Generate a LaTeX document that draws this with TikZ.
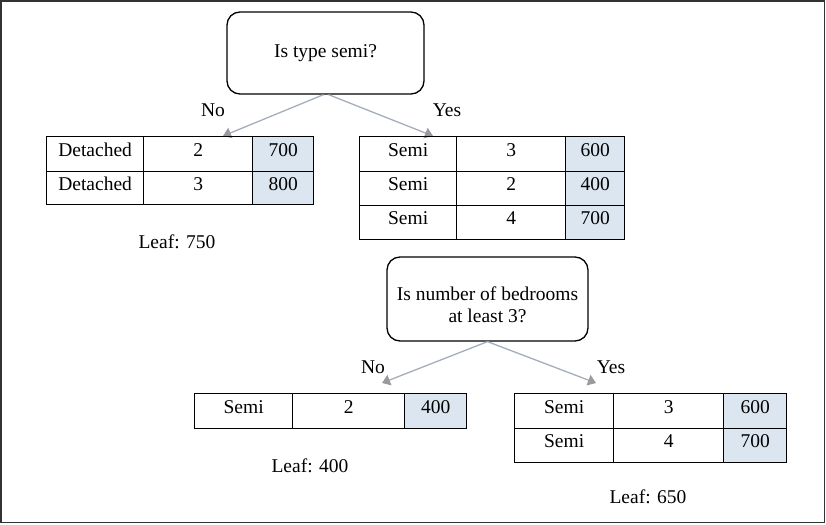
\documentclass[tikz,border=0pt]{standalone}
\usepackage{fontspec}
\setmainfont{Liberation Serif}
\usetikzlibrary{arrows.meta}
\definecolor{shade}{HTML}{DCE6F1}
\definecolor{arrowc}{HTML}{A3ADBB}
\definecolor{tipc}{HTML}{9A9A9A}
\definecolor{frame}{HTML}{333333}
\begin{document}
\begin{tikzpicture}[x=1pt,y=-1pt,
  every node/.style={font=\fontsize{19.5}{22}\selectfont},
  cell/.style={draw=black,line width=1.3pt,anchor=north west,inner sep=0pt,
    text height=13pt,text depth=9pt},
  val/.style={cell,fill=shade},
  question/.style={draw=black,line width=1.3pt,rounded corners=13pt,inner sep=0pt},
  lbl/.style={inner sep=0pt},
  branch/.style={draw=arrowc,line width=1.3pt,
    -{Triangle[length=8pt,width=11pt,fill=tipc,color=tipc]}}]
\useasboundingbox (0,0) rectangle (826,524);
\draw[frame,line width=1.6pt] (0.8,0.8) rectangle (824.6,522.6);

% first question
\node[question,minimum width=197pt,minimum height=82pt] (q1) at (325.5,53) {Is type semi?};
\coordinate (t1in) at (223,136);
\coordinate (t2in) at (433,136);
\draw[branch] ([xshift=-2pt]q1.south) -- (t1in);
\draw[branch] ([xshift=3pt]q1.south) -- (t2in);
\node[lbl] (no1) at (213,110) {No};
\node[lbl] (yes1) at (447,110) {Yes};

% table 1
\node[cell,minimum width=97pt,minimum height=35pt] (t1a1) at (46,136) {Detached};
\node[cell,minimum width=109pt,minimum height=35pt] (t1b1) at (143,136) {2};
\node[val,minimum width=61pt,minimum height=35pt] (t1c1) at (252,136) {700};
\node[cell,minimum width=97pt,minimum height=33pt] (t1a2) at (46,171) {Detached};
\node[cell,minimum width=109pt,minimum height=33pt] (t1b2) at (143,171) {3};
\node[val,minimum width=61pt,minimum height=33pt] (t1c2) at (252,171) {800};
\node[lbl] (leaf1) at (177,242) {Leaf: 750};

% table 2
\node[cell,minimum width=97pt,minimum height=35pt] (t2a1) at (359,136) {Semi};
\node[cell,minimum width=109pt,minimum height=35pt] (t2b1) at (456,136) {3};
\node[val,minimum width=59pt,minimum height=35pt] (t2c1) at (565,136) {600};
\node[cell,minimum width=97pt,minimum height=34pt] (t2a2) at (359,171) {Semi};
\node[cell,minimum width=109pt,minimum height=34pt] (t2b2) at (456,171) {2};
\node[val,minimum width=59pt,minimum height=34pt] (t2c2) at (565,171) {400};
\node[cell,minimum width=97pt,minimum height=34pt] (t2a3) at (359,205) {Semi};
\node[cell,minimum width=109pt,minimum height=34pt] (t2b3) at (456,205) {4};
\node[val,minimum width=59pt,minimum height=34pt] (t2c3) at (565,205) {700};

% second question
\node[question,minimum width=201pt,minimum height=84pt] (q2) at (487.5,299) {};
\node[lbl,align=center] (q2t) at (487.5,305) {Is number of bedrooms\\at least 3?};
\coordinate (t4in) at (382,383);
\coordinate (t5in) at (596,383);
\draw[branch] (q2.south) -- (t4in);
\draw[branch] (q2.south) -- (t5in);
\node[lbl] (no2) at (373,367) {No};
\node[lbl] (yes2) at (611,367) {Yes};

% table 4
\node[cell,minimum width=98pt,minimum height=35pt] (t4a1) at (194,393) {Semi};
\node[cell,minimum width=112pt,minimum height=35pt] (t4b1) at (292,393) {2};
\node[val,minimum width=62pt,minimum height=35pt] (t4c1) at (404,393) {400};
\node[lbl] (leaf2) at (310,466) {Leaf: 400};

% table 5
\node[cell,minimum width=99pt,minimum height=35pt] (t5a1) at (514,393) {Semi};
\node[cell,minimum width=110pt,minimum height=35pt] (t5b1) at (613,393) {3};
\node[val,minimum width=63pt,minimum height=35pt] (t5c1) at (723,393) {600};
\node[cell,minimum width=99pt,minimum height=34pt] (t5a2) at (514,428) {Semi};
\node[cell,minimum width=110pt,minimum height=34pt] (t5b2) at (613,428) {4};
\node[val,minimum width=63pt,minimum height=34pt] (t5c2) at (723,428) {700};
\node[lbl] (leaf3) at (648,497) {Leaf: 650};
\end{tikzpicture}
\end{document}
